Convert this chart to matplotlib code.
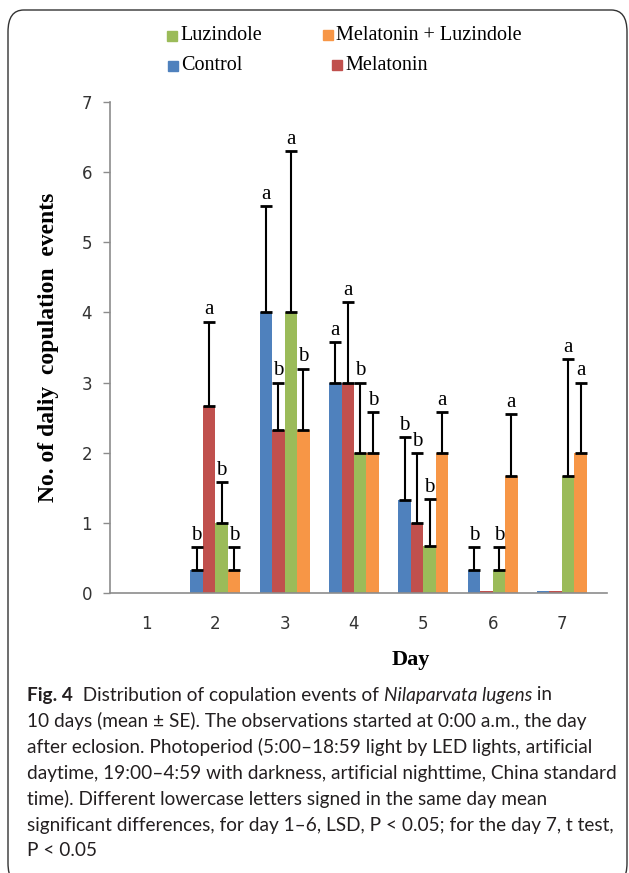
import numpy as np
import matplotlib
matplotlib.use("Agg")
import matplotlib.pyplot as plt
from matplotlib.patches import FancyBboxPatch, Rectangle

# === Dati ===
days = [1, 2, 3, 4, 5, 6, 7]
series = ["Control", "Melatonin", "Luzindole", "Melatonin + Luzindole"]
colors = ["#4F81BD", "#C0504D", "#9BBB59", "#F79646"]

control = [0, 0.33, 4.0, 3.0, 1.33, 0.33, 0.03]
melatonin = [0, 2.67, 2.33, 3.0, 1.0, 0.03, 0.03]
luzindole = [0, 1.0, 4.0, 2.0, 0.67, 0.33, 1.67]
mel_luz = [0, 0.33, 2.33, 2.0, 2.0, 1.67, 2.0]

control_se = [0, 0.33, 1.52, 0.58, 0.89, 0.33, 0]
melatonin_se = [0, 1.2, 0.67, 1.15, 1.0, 0, 0]
luzindole_se = [0, 0.58, 2.3, 1.0, 0.67, 0.33, 1.67]
mel_luz_se = [0, 0.33, 0.87, 0.58, 0.58, 0.88, 1.0]

control_sig = ["", "b", "a", "a", "b", "b", ""]
melatonin_sig = ["", "a", "b", "a", "b", "", ""]
luzindole_sig = ["", "b", "a", "b", "b", "b", "a"]
mel_luz_sig = ["", "b", "b", "b", "a", "a", "a"]

means = [control, melatonin, luzindole, mel_luz]
errs = [control_se, melatonin_se, luzindole_se, mel_luz_se]
sigs = [control_sig, melatonin_sig, luzindole_sig, mel_luz_sig]

W, H = 629, 873
fig = plt.figure(figsize=(W / 100, H / 100), dpi=100)

def fx(px):
    return px / W

def fy(py):
    return 1 - py / H

# cornice arrotondata
frame = FancyBboxPatch((fx(8), fy(885)), fx(619), fy(10) - fy(885),
                       boxstyle="round,pad=0,rounding_size=0.025",
                       transform=fig.transFigure, fill=False,
                       edgecolor="#333333", linewidth=1.0)
fig.patches.append(frame)

ax = fig.add_axes([fx(110), fy(593), fx(607) - fx(110), fy(102) - fy(593)])

x = np.array(days, dtype=float)
w = 0.18
gray = "#8c8c8c"
for i, (m, e, s) in enumerate(zip(means, errs, sigs)):
    pos = x + (i - 1.5) * w
    ax.bar(pos, m, width=w, color=colors[i], zorder=2)
    e = np.array(e)
    has_err = e > 0
    ax.errorbar(pos[has_err], np.array(m)[has_err],
                yerr=[np.zeros(has_err.sum()), e[has_err]],
                fmt="none", ecolor="black", elinewidth=1.5,
                capsize=4.5, capthick=2, zorder=3)
    for p, v, err, lab in zip(pos, m, e, s):
        if lab:
            ax.text(p, v + err + 0.03, lab, ha="center", va="bottom",
                    family="Liberation Serif", fontsize=15, color="black")

ax.set_xlim(0.48, 7.65)
ax.set_ylim(0, 7)
ax.set_xticks(days)
ax.set_yticks(range(8))
ax.tick_params(axis="x", length=0, pad=16, labelsize=12, labelcolor="#333333")
ax.tick_params(axis="y", length=5, width=1, color=gray, pad=8,
               labelsize=12, labelcolor="#333333")
for sp in ["top", "right"]:
    ax.spines[sp].set_visible(False)
for sp in ["left", "bottom"]:
    ax.spines[sp].set_color(gray)
    ax.spines[sp].set_linewidth(1.2)

fig.text(fx(49), fy(347), "No. of daliy  copulation  events", rotation=90,
         ha="center", va="center", family="Liberation Serif",
         fontweight="bold", fontsize=17)
fig.text(fx(411), fy(660), "Day", ha="center", va="center",
         family="Liberation Serif", fontweight="bold", fontsize=16)

# legenda disegnata a mano: (serie, x quadratino, y centro)
legend_items = [(2, 167, 36), (3, 323, 35), (0, 168, 66), (1, 332, 65)]
for idx, lx, ly in legend_items:
    fig.add_artist(Rectangle((fx(lx), fy(ly + 5)), fx(10), fy(ly - 5) - fy(ly + 5),
                             transform=fig.transFigure, color=colors[idx]))
    fig.text(fx(lx + 13), fy(ly), series[idx], ha="left", va="center",
             family="Liberation Serif", fontsize=14.5)

# didascalia
cap_font = ["Lato", "Noto Sans", "DejaVu Sans"]
cap_color = "#231f20"
lines = [
    [("Fig. 4", "bold", "normal"),
     ("  Distribution of copulation events of ", "normal", "normal"),
     ("Nilaparvata lugens", "normal", "italic"), (" in", "normal", "normal")],
    [("10 days (mean ± SE). The observations started at 0:00 a.m., the day", "normal", "normal")],
    [("after eclosion. Photoperiod (5:00–18:59 light by LED lights, artificial", "normal", "normal")],
    [("daytime, 19:00–4:59 with darkness, artificial nighttime, China standard", "normal", "normal")],
    [("time). Different lowercase letters signed in the same day mean", "normal", "normal")],
    [("significant differences, for day 1–6, LSD, P < 0.05; for the day 7, t test,", "normal", "normal")],
    [("P < 0.05", "normal", "normal")],
]
renderer = fig.canvas.get_renderer()

# dimensione del font scelta in base alla riga piu' lunga
probe = fig.text(0, 0, lines[3][0][0], family=cap_font, fontsize=10)
probe_w = probe.get_window_extent(renderer=renderer).width
probe.remove()
cap_size = 10 * 591 / probe_w

for k, runs in enumerate(lines):
    xpos = fx(27)
    ypos = fy(695 + 26 * k)
    for txt, weight, style in runs:
        t = fig.text(xpos, ypos, txt, ha="left", va="center", family=cap_font,
                     fontsize=cap_size, fontweight=weight, fontstyle=style,
                     color=cap_color)
        bb = t.get_window_extent(renderer=renderer)
        xpos += bb.width / W

fig.savefig("out.png", dpi=100)
